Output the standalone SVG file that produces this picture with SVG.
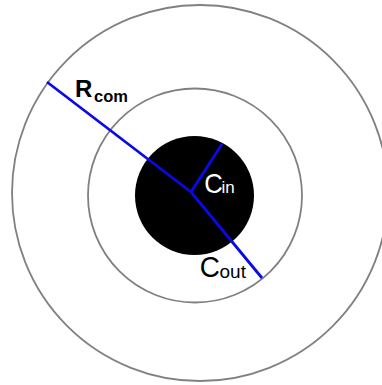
<svg xmlns="http://www.w3.org/2000/svg" width="382" height="385" viewBox="0 0 382 385">
<style>
.ring{fill:none;stroke:#808080;stroke-width:1.8}
.ray{stroke:#0a0ae6;stroke-width:2.8;stroke-linecap:butt;fill:none}
.lbl{font-family:"Liberation Sans",Arial,sans-serif}
</style>
<rect width="382" height="385" fill="#ffffff"/>
<g id="outer-ring"><circle class="ring" cx="200" cy="193" r="188"/></g>
<g id="inner-ring"><circle class="ring" cx="195" cy="195.5" r="107"/></g>
<g id="core"><circle cx="194.5" cy="195.5" r="59.5" fill="#000000"/></g>
<g id="connectors">
<line class="ray" x1="47" y1="82" x2="191" y2="192"/>
<line class="ray" x1="191" y1="192" x2="222" y2="144"/>
<line class="ray" x1="191" y1="192" x2="262" y2="278"/>
</g>
<g id="label-rcom">
<text class="lbl" font-weight="bold" fill="#000"><tspan x="75" y="96.7" font-size="24">R</tspan><tspan x="94" y="102.3" font-size="16.5">com</tspan></text>
</g>
<g id="label-cin">
<text class="lbl" fill="#fff" font-size="28.5" transform="translate(204.3,192.5) scale(0.9,1)">C</text>
<text class="lbl" fill="#fff" font-size="17" x="221.5" y="193">in</text>
</g>
<g id="label-cout">
<text class="lbl" fill="#000" font-size="30" transform="translate(199.8,277) scale(0.93,1)">C</text>
<text class="lbl" fill="#000" font-size="19" x="219.5" y="277.5">out</text>
</g>
</svg>
